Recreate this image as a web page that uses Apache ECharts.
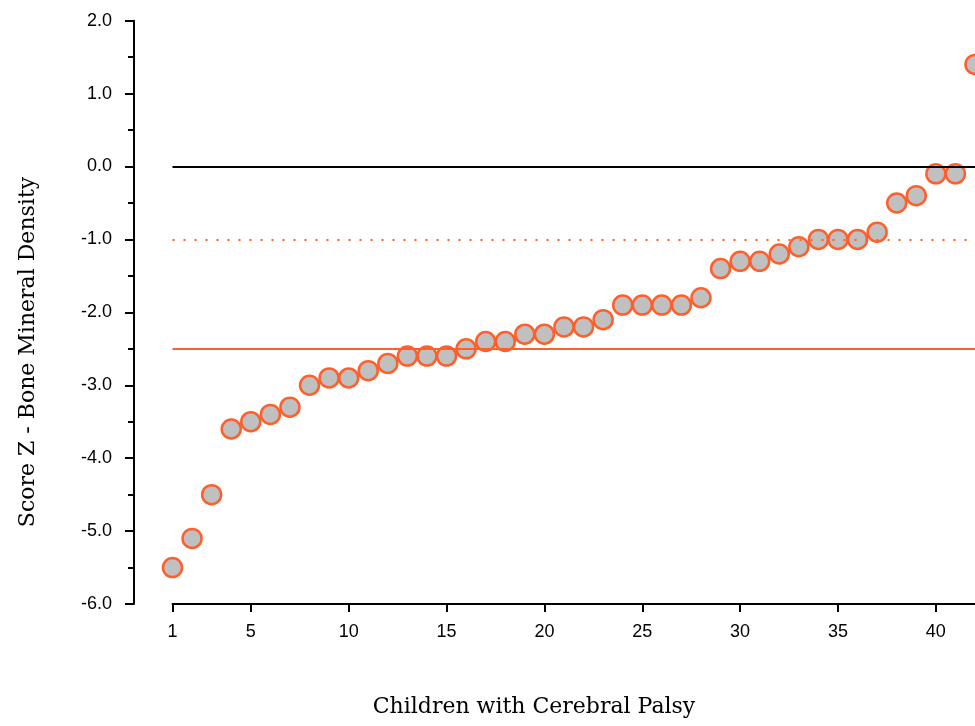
<!DOCTYPE html>
<html>
<head>
<meta charset="utf-8">
<script src="https://cdn.jsdelivr.net/npm/echarts@6/dist/echarts.min.js"></script>
<style>
  html, body { margin: 0; padding: 0; background: #fff; }
  #chart { width: 975px; height: 726px; }
</style>
</head>
<body>
<div id="chart"></div>
<script>
// children, ranked by Z score
const children = [1, 2, 3, 4, 5, 6, 7, 8, 9, 10, 11, 12, 13, 14, 15, 16, 17, 18, 19, 20, 21,
  22, 23, 24, 25, 26, 27, 28, 29, 30, 31, 32, 33, 34, 35, 36, 37, 38, 39, 40, 41, 42];
const zScores = [-5.5, -5.1, -4.5, -3.6, -3.5, -3.4, -3.3, -3.0, -2.9, -2.9, -2.8, -2.7, -2.6, -2.6,
  -2.6, -2.5, -2.4, -2.4, -2.3, -2.3, -2.2, -2.2, -2.1, -1.9, -1.9, -1.9, -1.9, -1.8, -1.4, -1.3,
  -1.3, -1.2, -1.1, -1.0, -1.0, -1.0, -0.9, -0.5, -0.4, -0.1, -0.1, 1.4];
const xTickValues = [1, 5, 10, 15, 20, 25, 30, 35, 40];
// reference lines: normal, osteopenia, osteoporosis
const refZero = 0;
const refOsteopenia = -1.0;
const refOsteoporosis = -2.5;

const orange = '#ff5f2a';
const tickFont = { color: '#000', fontFamily: 'Liberation Sans', fontSize: 18 };
const titleFont = { fill: '#000', fontFamily: 'DejaVu Serif', fontSize: 22 };

const chart = echarts.init(document.getElementById('chart'));

chart.setOption({
  animation: false,
  grid: { left: 172.5, top: 20.7, width: 812, bottom: 122 },
  xAxis: {
    type: 'value',
    min: 1,
    max: 42,
    axisLine: { onZero: false, lineStyle: { color: '#000', width: 2 } },
    axisTick: { length: 8, lineStyle: { color: '#000', width: 2 }, customValues: xTickValues },
    axisLabel: { ...tickFont, margin: 19, customValues: xTickValues },
    splitLine: { show: false }
  },
  yAxis: {
    type: 'value',
    min: -6,
    max: 2,
    interval: 1,
    offset: 38.5,
    axisLine: { show: true, lineStyle: { color: '#000', width: 2 } },
    axisTick: { show: true, length: 9, lineStyle: { color: '#000', width: 2 } },
    minorTick: { show: true, splitNumber: 2, length: 6, lineStyle: { color: '#000', width: 2 } },
    axisLabel: { ...tickFont, margin: 22, formatter: v => v.toFixed(1) },
    splitLine: { show: false }
  },
  graphic: [
    {
      type: 'text', x: 28, y: 352, rotation: Math.PI / 2,
      style: { ...titleFont, text: 'Score Z - Bone Mineral Density', align: 'center', verticalAlign: 'middle' }
    },
    {
      type: 'text', x: 534, y: 707,
      style: { ...titleFont, text: 'Children with Cerebral Palsy', align: 'center', verticalAlign: 'middle' }
    }
  ],
  series: [
    {
      type: 'scatter',
      data: children.map((c, i) => [c, zScores[i]]),
      symbol: 'circle',
      symbolSize: 19,
      itemStyle: { color: '#c0c0c0', borderColor: orange, borderWidth: 2.5, opacity: 1 },
      z: 3,
      markLine: {
        silent: true,
        symbol: 'none',
        label: { show: false },
        animation: false,
        data: [
          { yAxis: refZero, lineStyle: { color: '#000', width: 2, type: 'solid' } },
          { yAxis: refOsteopenia, lineStyle: { color: orange, width: 2, type: [2, 9] } },
          { yAxis: refOsteoporosis, lineStyle: { color: orange, width: 2, type: 'solid' } }
        ]
      }
    }
  ]
});
</script>
</body>
</html>
